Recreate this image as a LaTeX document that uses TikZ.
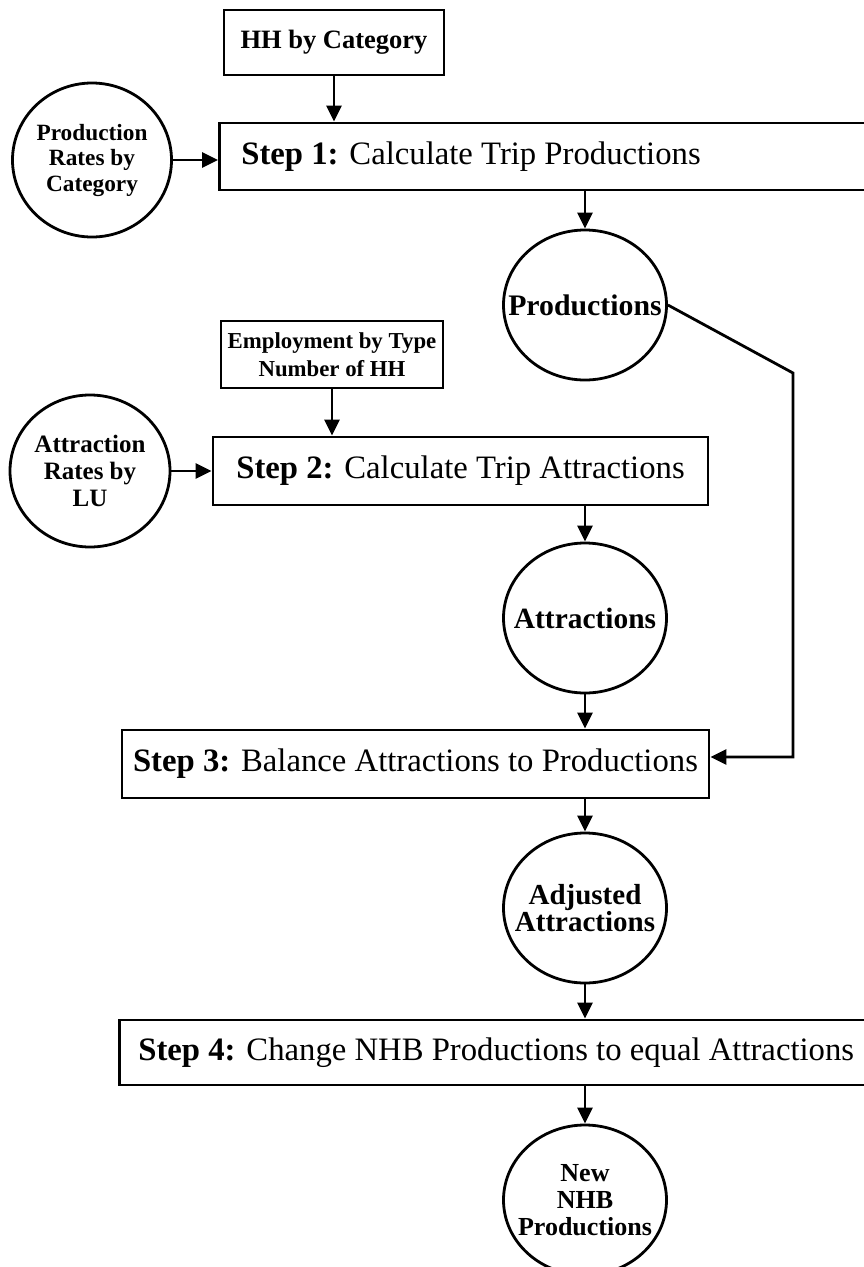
\documentclass[tikz,border=0pt]{standalone}
\usepackage{fontspec}
\setmainfont{Liberation Serif}
\usetikzlibrary{arrows.meta,shapes.geometric}
\begin{document}
\begin{tikzpicture}[x=1pt,y=-1pt,
  line width=2.8pt,
  arr/.style={-{Triangle[length=16pt,width=15pt]}, line width=2.8pt},
  circ/.style={draw, ellipse, inner sep=0pt, minimum width=163pt, minimum height=150pt},
  stepbox/.style={draw, rectangle, inner sep=0pt, align=center, font=\fontsize{32.7}{38}\selectfont},
  inbox/.style={draw, rectangle, inner sep=0pt, align=center},
  lab/.style={align=center, inner sep=0pt}
]
\useasboundingbox (0,0) rectangle (864,1267);
\clip (0,0) rectangle (864,1267);

\node[inbox, minimum width=220pt, minimum height=65pt, font=\bfseries\fontsize{26.5}{30}\selectfont] (hh) at (334,42.5) {HH by Category};

\node[circ, minimum width=159pt, minimum height=154pt,
  label={[lab, font=\bfseries\fontsize{23.3}{25.5}\selectfont]center:{Production\\Rates by\\Category}}] (prate) at (92,160) {};

\node[stepbox, anchor=west, minimum width=680pt, minimum height=67pt, text width=636pt, inner xsep=22pt, align=flush left] (s1) at (218,156.5) {\textbf{Step 1:} Calculate Trip Productions};

\node[circ, label={[lab, font=\bfseries\fontsize{29.8}{30}\selectfont]center:{Productions}}] (prod) at (585,305) {};

\node[inbox, minimum width=222pt, minimum height=67pt, font=\bfseries\fontsize{22.8}{28}\selectfont] (emp) at (332,354.5) {Employment by Type\\Number of HH};

\node[circ, minimum width=160pt, minimum height=152pt,
  label={[lab, font=\bfseries\fontsize{25}{27}\selectfont]center:{Attraction\\Rates by\\LU}}] (arate) at (90,471) {};

\node[stepbox, minimum width=495pt, minimum height=68pt] (s2) at (460.5,471) {\textbf{Step 2:} Calculate Trip Attractions};

\node[circ, label={[lab, font=\bfseries\fontsize{29.4}{30}\selectfont]center:{Attractions}}] (attr) at (585,618) {};

\node[stepbox, minimum width=587pt, minimum height=68pt] (s3) at (415.5,764) {\textbf{Step 3:} Balance Attractions to Productions};

\node[circ, label={[lab, font=\bfseries\fontsize{29}{27}\selectfont]center:{Adjusted\\Attractions}}] (adj) at (585,908) {};

\node[stepbox, anchor=west, minimum width=800pt, minimum height=65pt, text width=762pt, inner xsep=19pt, align=flush left] (s4) at (118,1052.5) {\textbf{Step 4:} Change NHB Productions to equal Attractions};

\node[circ, label={[lab, font=\bfseries\fontsize{26}{27}\selectfont]center:{New\\NHB\\Productions}}] (nhb) at (585,1200) {};

\coordinate (b1) at (793,373);
\coordinate (b2) at (793,757);

\draw[arr] (hh.south) -- (hh.south |- s1.north);
\draw[arr] (prate.east) -- (prate.east -| s1.west);
\draw[arr] (prod.north |- s1.south) -- (prod.north);
\draw[arr, line join=miter] (prod.east) -- (b1) -- (b2) -- (b2 -| s3.east);
\draw[arr] (emp.south) -- (emp.south |- s2.north);
\draw[arr] (arate.east) -- (arate.east -| s2.west);
\draw[arr] (attr.north |- s2.south) -- (attr.north);
\draw[arr] (attr.south) -- (attr.south |- s3.north);
\draw[arr] (adj.north |- s3.south) -- (adj.north);
\draw[arr] (adj.south) -- (adj.south |- s4.north);
\draw[arr] (nhb.north |- s4.south) -- (nhb.north);
\end{tikzpicture}
\end{document}
